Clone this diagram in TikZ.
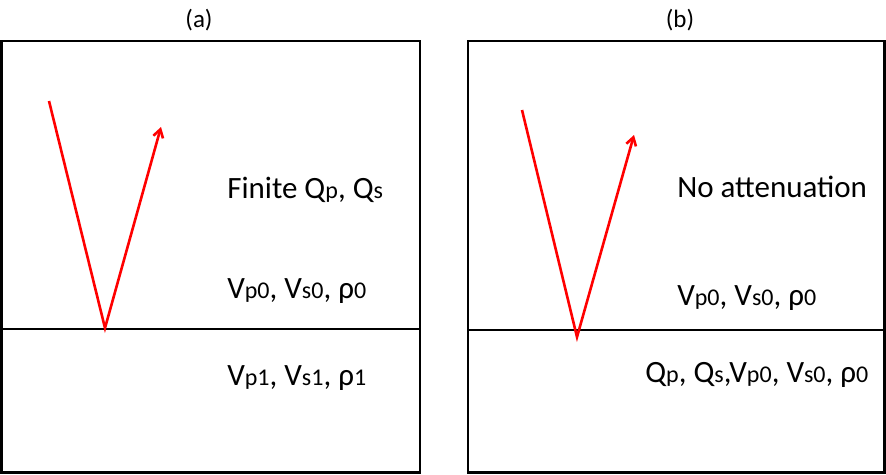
\documentclass[tikz,border=0pt]{standalone}
\usepackage{fontspec}
\setmainfont{Carlito}
\usetikzlibrary{arrows.meta}
\newcommand{\sm}[1]{{\fontsize{24}{28}\selectfont #1}}

\begin{document}
\begin{tikzpicture}[
  x=1pt, y=-1pt, line width=2.6pt,
  lbl/.style={anchor=west, inner sep=0pt, font=\fontsize{31}{36}\selectfont},
  ray/.style={red, line width=2.6pt, -{Straight Barb[length=8pt,width=10pt]}},
]
\useasboundingbox (0,0) rectangle (886,474);
  % Panel (a)
  \node[font=\fontsize{25}{30}\selectfont] (ta) at (199,20) {(a)};
  \draw (1.3,41) rectangle (420,472.7);
  \draw (1.3,329) -- (420,329);
  \coordinate (a1) at (49,101);
  \coordinate (a2) at (105,328);
  \coordinate (a3) at (161,127);
  \draw[ray] (a1) -- (a2) -- (a3);
  \node[lbl] (qa) at (226,190) {Finite Q\sm{p}, Q\sm{s}};
  \node[lbl] (va) at (226,291) {V\sm{p0}, V\sm{s0}, ρ\sm{0}};
  \node[lbl] (vb) at (226,378) {V\sm{p1}, V\sm{s1}, ρ\sm{1}};

  % Panel (b)
  \node[font=\fontsize{25}{30}\selectfont] (tb) at (680,20) {(b)};
  \draw (468,41) rectangle (884.7,472.7);
  \draw (468,330) -- (884.7,330);
  \coordinate (b1) at (522,110);
  \coordinate (b2) at (577,337);
  \coordinate (b3) at (634,135);
  \draw[ray] (b1) -- (b2) -- (b3);
  \node[lbl] (qb) at (676,187) {No attenuation};
  \node[lbl] (vc) at (676,298) {V\sm{p0}, V\sm{s0}, ρ\sm{0}};
  \node[lbl] (vd) at (644,375) {Q\sm{p}, Q\sm{s},V\sm{p0}, V\sm{s0}, ρ\sm{0}};
\end{tikzpicture}
\end{document}
